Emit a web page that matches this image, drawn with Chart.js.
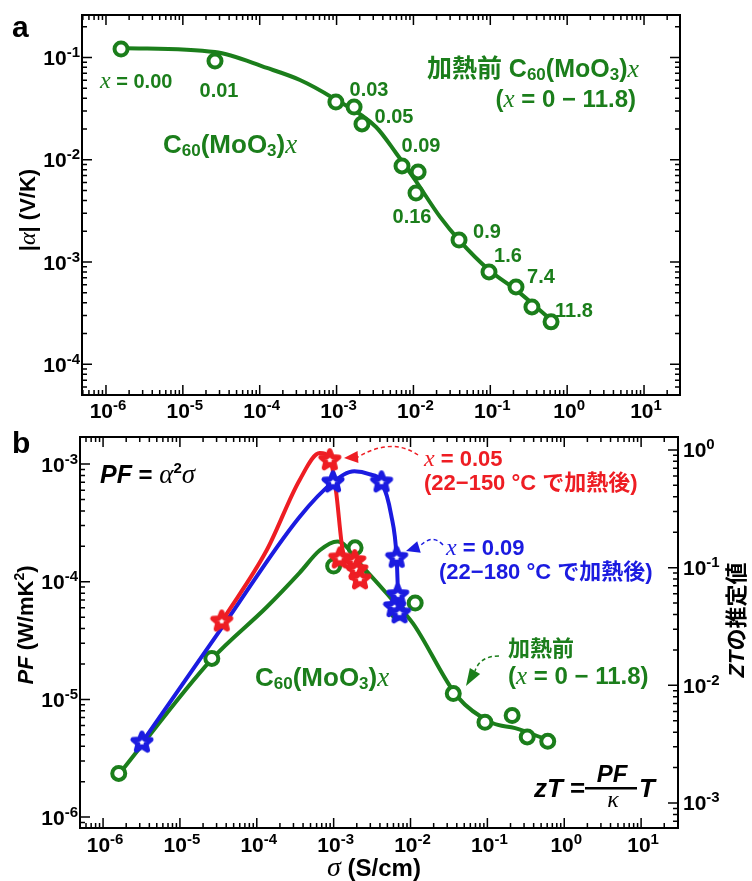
<!DOCTYPE html>
<html>
<head>
<meta charset="utf-8">
<script src="https://cdn.jsdelivr.net/npm/chart.js@4.4.0/dist/chart.umd.min.js"></script>
<style>
body { margin: 0; background: #fff; }
#wrap { position: relative; width: 752px; height: 881px; overflow: hidden; }
canvas { position: absolute; left: 0; }
#ca { top: 0; }
#cb { top: 420px; }
</style>
</head>
<body>
<div id="wrap">
<canvas id="ca" width="752" height="420"></canvas>
<canvas id="cb" width="752" height="461"></canvas>
</div>
<script>
// Panel a: |alpha| vs sigma, before heating
const aSigma = [1.57e-6, 2.62e-5, 9.8e-4, 1.69e-3, 2.14e-3, 7.1e-3, 1.15e-2, 1.08e-2, 3.92e-2, 9.62e-2, 0.216, 0.348, 0.617];
const aAlpha = [0.121, 0.0924, 0.0367, 0.0328, 0.0224, 8.7e-3, 7.6e-3, 4.73e-3, 1.64e-3, 8.0e-4, 5.71e-4, 3.64e-4, 2.60e-4];
const aFitSigma = [1.57e-6, 2.62e-5, 1.24e-4, 3.34e-4, 8.98e-4, 3.26e-3, 5.93e-3, 1.05e-2, 2.22e-2, 3.92e-2, 9.62e-2, 0.216, 0.617];
const aFitAlpha = [0.124, 0.113, 0.0789, 0.0602, 0.0402, 0.0209, 0.01164, 6.35e-3, 2.76e-3, 1.64e-3, 8.37e-4, 5.34e-4, 2.72e-4];
const aXLabels = ['0.00', '0.01', '0.03', '0.05', '0.09', '0.16', '0.9', '1.6', '7.4', '11.8'];

// Panel b: PF vs sigma
const bGreenSigma = [1.6e-6, 2.6e-5, 1.0e-3, 1.9e-3, 2.2e-3, 6.9e-3, 1.15e-2, 0.036, 0.093, 0.21, 0.33, 0.61];
const bGreenPF = [2.35e-6, 2.23e-5, 1.36e-4, 1.94e-4, 1.16e-4, 5.5e-5, 6.6e-5, 1.12e-5, 6.4e-6, 7.3e-6, 4.8e-6, 4.4e-6];
const bGreenFitSigma = [1.6e-6, 2.6e-5, 1.35e-4, 3.6e-4, 6.6e-4, 1.12e-3, 2.4e-3, 5.4e-3, 1.07e-2, 0.041, 0.116, 0.23, 0.62];
const bGreenFitPF = [2.3e-6, 2.2e-5, 6.1e-5, 1.19e-4, 1.85e-4, 2.2e-4, 1.33e-4, 7.4e-5, 4.45e-5, 1.05e-5, 6.3e-6, 5.7e-6, 4.5e-6];

const bRedSigma = [3.5e-5, 8.9e-4, 1.2e-3, 1.88e-3, 2.0e-3, 2.2e-3];
const bRedPF = [4.6e-5, 1.08e-3, 1.58e-4, 1.5e-4, 1.26e-4, 1.05e-4];
const bRedFitSigma = [3.5e-5, 1.35e-4, 3.6e-4, 6.6e-4, 8.9e-4, 1.07e-3, 1.31e-3, 1.7e-3, 2.2e-3];
const bRedFitPF = [4.6e-5, 1.86e-4, 7.3e-4, 1.24e-3, 1.12e-3, 6.0e-4, 1.86e-4, 1.38e-4, 1.03e-4];

const bBlueSigma = [3.2e-6, 9.8e-4, 4.2e-3, 6.6e-3, 6.8e-3, 6.2e-3, 7.2e-3];
const bBluePF = [4.3e-6, 7.0e-4, 7.0e-4, 1.6e-4, 7.7e-5, 6.1e-5, 5.4e-5];
const bBlueFitSigma = [3.2e-6, 3.5e-5, 3.6e-4, 9.8e-4, 1.86e-3, 2.9e-3, 4.2e-3, 5.6e-3, 6.6e-3, 6.9e-3, 7.2e-3];
const bBlueFitPF = [4.3e-6, 4.05e-5, 3.55e-4, 7.0e-4, 8.7e-4, 8.2e-4, 7.0e-4, 3.7e-4, 1.6e-4, 7.7e-5, 5.4e-5];

const GREEN = '#1b7e1b';
const RED = '#ee1d23';
const BLUE = '#1b1be0';

const SANS = "'Liberation Sans', Arial, 'Noto Sans CJK JP', sans-serif";
const SERIF = "'Liberation Serif', 'Times New Roman', serif";

function F(size, style) {
  if (style === 'si') return 'italic ' + size + 'px ' + SERIF;
  if (style === 'bi') return 'italic bold ' + size + 'px ' + SANS;
  return 'bold ' + size + 'px ' + SANS;
}
const P = (t, size, style, dy) => ({ t, f: F(size, style), dy: dy || 0 });

function rich(ctx, parts, x, y, align) {
  let w = 0;
  parts.forEach(p => { ctx.font = p.f; p.w = ctx.measureText(p.t).width; w += p.w; });
  let cx = align === 'center' ? x - w / 2 : align === 'right' ? x - w : x;
  ctx.textAlign = 'left';
  ctx.textBaseline = 'alphabetic';
  parts.forEach(p => { ctx.font = p.f; ctx.fillText(p.t, cx, y + p.dy); cx += p.w; });
  return w;
}

function formula(size, sub) {
  return [P('C', size, 'b'), P('60', sub, 'b', 3), P('(MoO', size, 'b'), P('3', sub, 'b', 3), P(')', size, 'b'), P('x', size + 1, 'si')];
}

function pow10(ctx, x, y, e, align) {
  rich(ctx, [P('10', 21, 'b'), P(String(e), 15, 'b', -8)], x, y, align);
}

function logTicks(scale) {
  const out = [];
  const lo = Math.floor(Math.log10(scale.min)), hi = Math.ceil(Math.log10(scale.max));
  for (let e = lo; e <= hi; e++) {
    for (let k = 1; k <= 9; k++) {
      const v = k * Math.pow(10, e);
      if (v < scale.min * 0.9999 || v > scale.max * 1.0001) continue;
      out.push({ e, major: k === 1, p: scale.getPixelForValue(v) });
    }
  }
  return out;
}

function drawAxes(chart, rightId, xLabelDy) {
  const { ctx, chartArea: a, scales } = chart;
  ctx.save();
  ctx.strokeStyle = '#000';
  ctx.fillStyle = '#000';
  ctx.lineWidth = 2;
  ctx.strokeRect(a.left, a.top, a.right - a.left, a.bottom - a.top);
  ctx.lineWidth = 1.5;
  ctx.beginPath();
  logTicks(scales.x).forEach(t => {
    const L = t.major ? 10 : 5;
    ctx.moveTo(t.p, a.bottom); ctx.lineTo(t.p, a.bottom - L);
    ctx.moveTo(t.p, a.top); ctx.lineTo(t.p, a.top + L);
  });
  logTicks(scales.y).forEach(t => {
    const L = t.major ? 10 : 5;
    ctx.moveTo(a.left, t.p); ctx.lineTo(a.left + L, t.p);
  });
  logTicks(scales[rightId]).forEach(t => {
    const L = t.major ? 10 : 5;
    ctx.moveTo(a.right, t.p); ctx.lineTo(a.right - L, t.p);
  });
  ctx.stroke();
  logTicks(scales.x).filter(t => t.major).forEach(t => pow10(ctx, t.p + 2, a.bottom + xLabelDy, t.e, 'center'));
  logTicks(scales.y).filter(t => t.major).forEach(t => pow10(ctx, a.left - 2, t.p + 7.5, t.e, 'right'));
  if (rightId !== 'y') {
    logTicks(scales[rightId]).filter(t => t.major).forEach(t => pow10(ctx, a.right + 5, t.p + 7.5, t.e, 'left'));
  }
  ctx.restore();
}

function vText(ctx, parts, cx, cy) {
  ctx.save();
  ctx.translate(cx, cy);
  ctx.rotate(-Math.PI / 2);
  rich(ctx, parts, 0, 8, 'center');
  ctx.restore();
}

function dashArrow(ctx, color, p0, c, p1, tip) {
  ctx.save();
  ctx.strokeStyle = color;
  ctx.fillStyle = color;
  ctx.lineWidth = 1.5;
  ctx.setLineDash([4, 3]);
  ctx.beginPath();
  ctx.moveTo(p0[0], p0[1]);
  ctx.quadraticCurveTo(c[0], c[1], p1[0], p1[1]);
  ctx.stroke();
  ctx.setLineDash([]);
  const dx = tip[0] - p1[0], dy = tip[1] - p1[1];
  const len = Math.hypot(dx, dy), nx = -dy / len * 6, ny = dx / len * 6;
  ctx.beginPath();
  ctx.moveTo(tip[0], tip[1]);
  ctx.lineTo(p1[0] + nx, p1[1] + ny);
  ctx.lineTo(p1[0] - nx, p1[1] - ny);
  ctx.closePath();
  ctx.fill();
  ctx.restore();
}

function starImg(color) {
  const s = 28, c = document.createElement('canvas');
  c.width = s; c.height = s;
  const g = c.getContext('2d');
  g.beginPath();
  for (let i = 0; i < 10; i++) {
    const r = i % 2 ? 4.2 : 9.5;
    const ang = -Math.PI / 2 + i * Math.PI / 5;
    g.lineTo(s / 2 + r * Math.cos(ang), s / 2 + r * Math.sin(ang));
  }
  g.closePath();
  g.fillStyle = '#fff';
  g.fill();
  g.lineJoin = 'round';
  g.lineWidth = 5;
  g.strokeStyle = color;
  g.stroke();
  return c;
}

const pts = (xs, ys) => xs.map((x, i) => ({ x, y: ys[i] }));

function curve(xs, ys, color, order) {
  return { data: pts(xs, ys), showLine: true, borderColor: color, borderWidth: 4, pointRadius: 0,
    cubicInterpolationMode: 'monotone', order };
}
function markers(xs, ys, color, style, order) {
  return { data: pts(xs, ys), showLine: false, pointStyle: style, pointRadius: style === 'circle' ? 6.5 : 9,
    borderColor: color, borderWidth: 4,
    pointBorderColor: color, pointBackgroundColor: '#fff', pointBorderWidth: 4, order };
}

function logAxis(min, max, pos, size, isX, axis) {
  return {
    type: 'logarithmic', position: pos, axis, min, max, bounds: 'data',
    ticks: { display: false },
    grid: { display: false, drawTicks: false },
    border: { display: false },
    afterFit: s => { if (isX) s.height = size; else s.width = size; }
  };
}

const common = {
  responsive: false,
  animation: false,
  devicePixelRatio: 1,
  plugins: { legend: { display: false }, tooltip: { enabled: false } }
};

const panelA = {
  id: 'panelA',
  afterDraw(chart) {
    const ctx = chart.ctx;
    drawAxes(chart, 'y', 23);
    ctx.save();
    ctx.fillStyle = '#000';
    rich(ctx, [P('a', 30, 'b')], 12, 37, 'left');
    vText(ctx, [P('|', 22, 'b'), P('α', 24, 'si'), P('| (V/K)', 22, 'b')], 27, 210);
    ctx.fillStyle = GREEN;
    rich(ctx, [P('x', 24, 'si'), P(' = ' + aXLabels[0], 20, 'b')], 100, 88, 'left');
    const pos = [[219, 97], [369, 96], [394, 123], [421, 152], [412, 223], [487, 238], [508, 262], [541, 283], [574, 317]];
    aXLabels.slice(1).forEach((t, i) => rich(ctx, [P(t, 20, 'b')], pos[i][0], pos[i][1], 'center'));
    rich(ctx, formula(26, 17), 163, 153, 'left');
    rich(ctx, [P('加熱前 ', 25, 'b')].concat(formula(25, 17)), 639, 77, 'right');
    rich(ctx, [P('(', 24, 'b'), P('x', 25, 'si'), P(' = 0 − 11.8)', 24, 'b')], 636, 107, 'right');
    ctx.restore();
  }
};

const panelB = {
  id: 'panelB',
  afterDraw(chart) {
    const ctx = chart.ctx;
    drawAxes(chart, 'zt', 24);
    ctx.save();
    ctx.fillStyle = '#000';
    rich(ctx, [P('b', 30, 'b')], 12, 33, 'left');
    vText(ctx, [P('PF', 22, 'bi'), P(' (W/mK', 22, 'b'), P('2', 14, 'b', -9), P(')', 22, 'b')], 25, 205);
    vText(ctx, [P('ZT', 22, 'bi'), P('の推定値', 22, 'b')], 736, 200);
    rich(ctx, [P('σ', 28, 'si'), P(' (S/cm)', 24, 'b')], 374, 456, 'center');
    rich(ctx, [P('PF', 25, 'bi'), P(' = ', 24, 'b'), P('α', 27, 'si'), P('2', 15, 'b', -10), P('σ', 27, 'si')], 100, 63, 'left');
    // zT = PF / kappa * T
    rich(ctx, [P('zT', 26, 'bi'), P(' =', 26, 'b')], 534, 377, 'left');
    rich(ctx, [P('PF', 24, 'bi')], 612, 362, 'center');
    rich(ctx, [P('κ', 24, 'si')], 613, 387, 'center');
    ctx.fillRect(585, 367, 52, 2.5);
    rich(ctx, [P('T', 26, 'bi')], 639, 377, 'left');

    ctx.fillStyle = RED;
    rich(ctx, [P('x', 24, 'si'), P(' = 0.05', 22, 'b')], 424, 46, 'left');
    rich(ctx, [P('(22−150 °C で加熱後)', 22, 'b')], 424, 70, 'left');
    dashArrow(ctx, RED, [418, 35], [392, 17], [358, 37], [344, 38]);

    ctx.fillStyle = BLUE;
    rich(ctx, [P('x', 24, 'si'), P(' = 0.09', 22, 'b')], 446, 135, 'left');
    rich(ctx, [P('(22−180 °C で加熱後)', 22, 'b')], 439, 159, 'left');
    dashArrow(ctx, BLUE, [443, 125], [432, 113], [419, 127], [406, 131]);

    ctx.fillStyle = GREEN;
    rich(ctx, [P('加熱前', 22, 'b')], 508, 236, 'left');
    rich(ctx, [P('(', 24, 'b'), P('x', 25, 'si'), P(' = 0 − 11.8)', 24, 'b')], 508, 264, 'left');
    rich(ctx, formula(26, 17), 255, 266, 'left');
    dashArrow(ctx, GREEN, [499, 236], [480, 236], [475, 251], [466, 266]);
    ctx.restore();
  }
};

const starRed = starImg(RED);
const starBlue = starImg(BLUE);

new Chart(document.getElementById('ca'), {
  type: 'scatter',
  data: {
    datasets: [
      curve(aFitSigma, aFitAlpha, GREEN, 2),
      markers(aSigma, aAlpha, GREEN, 'circle', 1)
    ]
  },
  options: Object.assign({}, common, {
    layout: { padding: { top: 15, right: 72, left: 0, bottom: 0 } },
    scales: {
      x: logAxis(Math.pow(10, -6.312), Math.pow(10, 1.468), 'bottom', 25, true, 'x'),
      y: logAxis(Math.pow(10, -4.30), Math.pow(10, -0.585), 'left', 82, false, 'y')
    }
  }),
  plugins: [panelA]
});

new Chart(document.getElementById('cb'), {
  type: 'scatter',
  data: {
    datasets: [
      curve(bGreenFitSigma, bGreenFitPF, GREEN, 6),
      markers(bGreenSigma, bGreenPF, GREEN, 'circle', 5),
      curve(bBlueFitSigma, bBlueFitPF, BLUE, 4),
      curve(bRedFitSigma, bRedFitPF, RED, 3),
      markers(bBlueSigma, bBluePF, BLUE, starBlue, 2),
      markers(bRedSigma, bRedPF, RED, starRed, 1)
    ]
  },
  options: Object.assign({}, common, {
    layout: { padding: { top: 17, right: 0, left: 0, bottom: 0 } },
    scales: {
      x: logAxis(Math.pow(10, -6.30), Math.pow(10, 1.48), 'bottom', 53, true, 'x'),
      y: logAxis(Math.pow(10, -6.093), Math.pow(10, -2.77), 'left', 80, false, 'y'),
      zt: logAxis(Math.pow(10, -3.2125), Math.pow(10, 0.110), 'right', 74, false, 'y')
    }
  }),
  plugins: [panelB]
});
</script>
</body>
</html>
